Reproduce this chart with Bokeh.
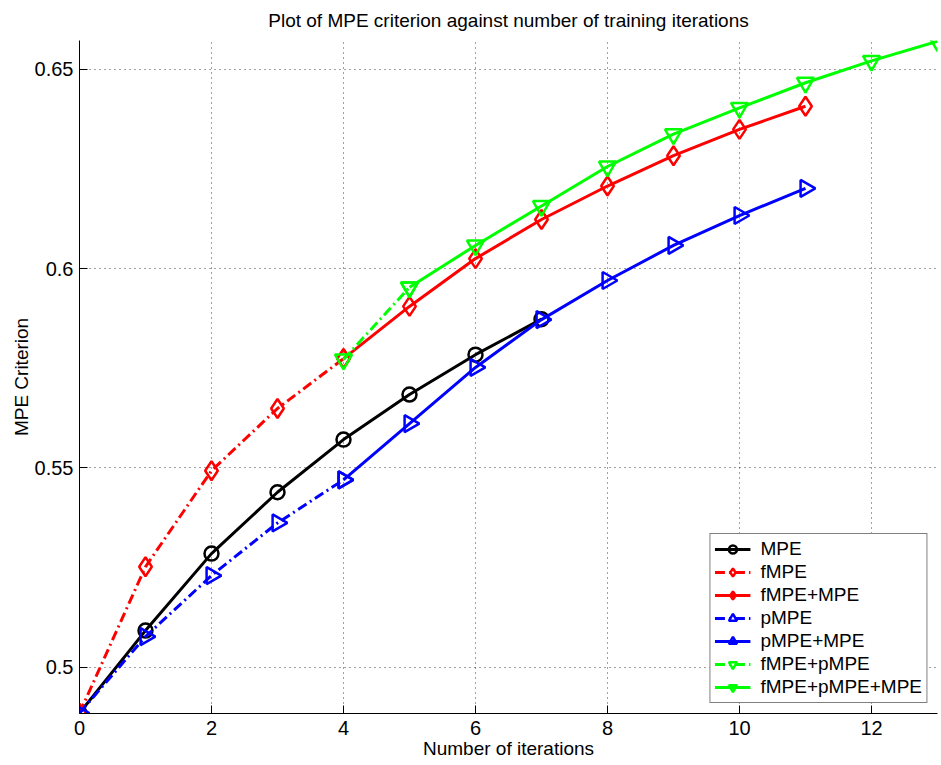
from bokeh.plotting import figure
from bokeh.models import FixedTicker, Legend, LegendItem, Range1d
from bokeh.embed import file_html
from bokeh.resources import INLINE

# ---- data ----
x_mpe = [0, 1, 2, 3, 4, 5, 6, 7]
y_mpe = [0.4885, 0.5092, 0.5285, 0.5439, 0.5571, 0.5684, 0.5784, 0.5873]

x_fmpe = [0, 1, 2, 3, 4]
y_fmpe = [0.4885, 0.5252, 0.5493, 0.5649, 0.5774]

x_fmpe_mpe = [4, 5, 6, 7, 8, 9, 10, 11]
y_fmpe_mpe = [0.5774, 0.5905, 0.6025, 0.6123, 0.6207, 0.6283, 0.6349, 0.6407]

x_pmpe = [0, 1, 2, 3, 4]
y_pmpe = [0.4885, 0.5077, 0.5230, 0.5362, 0.5470]

x_pmpe_mpe = [4, 5, 6, 7, 8, 9, 10, 11]
y_pmpe_mpe = [0.5470, 0.5611, 0.5752, 0.5872, 0.5970, 0.6058, 0.6133, 0.6201]

x_fp = [4, 5]
y_fp = [0.5772, 0.5953]

x_fp_mpe = [5, 6, 7, 8, 9, 10, 11, 12, 13]
y_fp_mpe = [0.5953, 0.6058, 0.6157, 0.6256, 0.6337, 0.6403, 0.6466, 0.6521, 0.6570]

x_ticks = [0, 2, 4, 6, 8, 10, 12]
y_ticks = [0.5, 0.55, 0.6, 0.65]
y_tick_labels = ["0.5", "0.55", "0.6", "0.65"]

series_names = ["MPE", "fMPE", "fMPE+MPE", "pMPE", "pMPE+MPE", "fMPE+pMPE", "fMPE+pMPE+MPE"]

FONT = "Liberation Sans"

p = figure(width=941, height=765, output_backend="svg", toolbar_location=None,
           x_range=Range1d(0, 13), y_range=Range1d(0.4884, 0.6572),
           min_border_left=79, min_border_right=4, min_border_top=40, min_border_bottom=52,
           title="Plot of MPE criterion against number of training iterations")
p.outline_line_color = None
p.background_fill_color = "white"
p.border_fill_color = "white"

p.title.align = "center"
p.title.vertical_align = "top"
p.title.text_font = FONT
p.title.text_font_size = "19px"
p.title.text_font_style = "normal"
p.title.text_color = "black"
p.title.standoff = 15

for ax in (p.xaxis[0], p.yaxis[0]):
    ax.major_tick_in = 8
    ax.major_tick_out = 0
    ax.minor_tick_in = 0
    ax.minor_tick_out = 0
    ax.axis_line_color = "black"
    ax.major_tick_line_color = "black"
    ax.major_label_text_font = FONT
    ax.major_label_text_font_size = "20px"
    ax.major_label_text_color = "black"
    ax.axis_label_text_font = FONT
    ax.axis_label_text_font_size = "19px"
    ax.axis_label_text_font_style = "normal"
    ax.axis_label_text_color = "black"
    ax.axis_label_standoff = 0

p.xaxis.ticker = FixedTicker(ticks=x_ticks)
p.yaxis.ticker = FixedTicker(ticks=y_ticks)
p.yaxis.major_label_overrides = {t: l for t, l in zip(y_ticks, y_tick_labels)}
p.xaxis.major_label_standoff = 7
p.yaxis.major_label_standoff = 6
p.xaxis.axis_label = "Number of iterations"
p.yaxis.axis_label = "MPE Criterion"

for g in (p.xgrid[0], p.ygrid[0]):
    g.grid_line_color = "black"
    g.grid_line_alpha = 0.75
    g.grid_line_dash = "1 4"
    g.grid_line_width = 1

DASHDOT = "10 4 2 4"
LW = 3

def series(xs, ys, color, dash, marker, size, angle=0.0):
    r_line = p.line(xs, ys, line_color=color, line_width=LW, line_dash=dash)
    r_mark = p.scatter(xs, ys, marker=marker, size=size, angle=angle,
                       line_color=color, line_width=2.5, fill_alpha=0)
    return [r_line, r_mark]

specs = [
    (x_mpe, y_mpe, "black", "solid", "circle", 14, 0.0),
    (x_fmpe, y_fmpe, "#ff0000", DASHDOT, "diamond", 19, 0.0),
    (x_fmpe_mpe, y_fmpe_mpe, "#ff0000", "solid", "diamond", 19, 0.0),
    (x_pmpe, y_pmpe, "#0000ff", DASHDOT, "triangle", 17, -1.5708),
    (x_pmpe_mpe, y_pmpe_mpe, "#0000ff", "solid", "triangle", 17, -1.5708),
    (x_fp, y_fp, "#00ff00", DASHDOT, "inverted_triangle", 17, 0.0),
    (x_fp_mpe, y_fp_mpe, "#00ff00", "solid", "inverted_triangle", 17, 0.0),
]

items = []
for name, (xs, ys, c, d, m, s, a) in zip(series_names, specs):
    rs = series(xs, ys, c, d, m, s, a)
    items.append(LegendItem(label=name, renderers=rs))

legend = Legend(items=items, location="bottom_right")
legend.border_line_color = "black"
legend.border_line_width = 1
legend.background_fill_color = "white"
legend.background_fill_alpha = 1
legend.label_text_font = FONT
legend.label_text_font_size = "19px"
legend.label_text_color = "black"
legend.glyph_width = 36
legend.glyph_height = 20
legend.label_height = 20
legend.spacing = 1
legend.padding = 4
legend.margin = 10
legend.label_standoff = 10
p.add_layout(legend, "center")

open("out.html", "w").write(file_html(p, INLINE))
